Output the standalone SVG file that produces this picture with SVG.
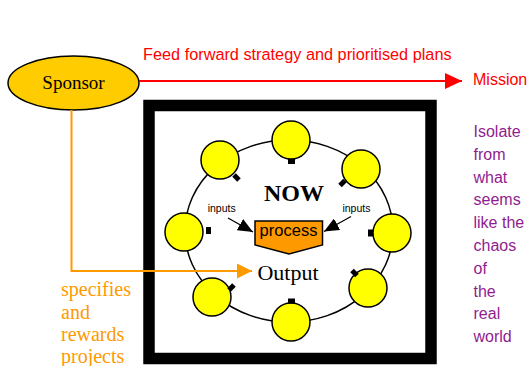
<svg xmlns="http://www.w3.org/2000/svg" width="530" height="366" viewBox="0 0 530 366">
<defs>
<style>
.bulb{fill:#FFFF00;stroke:#000;stroke-width:1.5}
.sock{fill:#000}
.serif{font-family:"Liberation Serif","Times New Roman",serif}
.sans{font-family:"Liberation Sans",Arial,sans-serif}
.red{fill:#FF0000}
.orange{fill:#FF9900}
.purple{fill:#901C90}
</style>
<marker id="redHead" markerWidth="17" markerHeight="16" refX="17" refY="8" orient="auto" markerUnits="userSpaceOnUse"><path d="M0,0 L17,8 L0,16 Z" fill="#FF0000"/></marker>
<marker id="orHead" markerWidth="15" markerHeight="15" refX="15" refY="7.5" orient="auto" markerUnits="userSpaceOnUse"><path d="M0,0 L15,7.5 L0,15 Z" fill="#FF9900"/></marker>
<marker id="blkHead" markerWidth="15" markerHeight="13" refX="15" refY="6.5" orient="auto" markerUnits="userSpaceOnUse"><path d="M0,0 L15,6.5 L0,13 Z" fill="#000"/></marker>
</defs>
<rect width="530" height="366" fill="#fff"/>

<g id="frame">
<rect x="149" y="105.5" width="282" height="253" fill="#fff" stroke="#000" stroke-width="11.5"/>
</g>

<g id="ring">
<ellipse cx="289" cy="231" rx="104" ry="91" fill="none" stroke="#000" stroke-width="1.5"/>
</g>

<g id="bulb-top"><circle class="bulb" cx="291" cy="140" r="19"/><rect class="sock" x="288" y="159" width="7" height="5"/></g>
<g id="bulb-topright"><circle class="bulb" cx="361" cy="169" r="19"/><rect class="sock" x="-3.5" y="-2.5" width="7" height="5" transform="translate(342.5,183) rotate(-45)"/></g>
<g id="bulb-right"><circle class="bulb" cx="392" cy="233" r="19"/><rect class="sock" x="368" y="229.5" width="5" height="7"/></g>
<g id="bulb-bottomright"><circle class="bulb" cx="368" cy="288" r="19"/><rect class="sock" x="-3.5" y="-2.5" width="7" height="5" transform="translate(354.5,273) rotate(45)"/></g>
<g id="bulb-bottom"><circle class="bulb" cx="291" cy="322" r="19"/><rect class="sock" x="288" y="298.5" width="7" height="5"/></g>
<g id="bulb-bottomleft"><circle class="bulb" cx="212" cy="297" r="19"/><rect class="sock" x="-3.5" y="-2.5" width="7" height="5" transform="translate(231.5,287.5) rotate(-45)"/></g>
<g id="bulb-left"><circle class="bulb" cx="184" cy="232" r="19"/><rect class="sock" x="206" y="227" width="5" height="7"/></g>
<g id="bulb-topleft"><circle class="bulb" cx="220" cy="160" r="19"/><rect class="sock" x="-3.5" y="-2.5" width="7" height="5" transform="translate(236.5,177.5) rotate(45)"/></g>

<g id="sponsor">
<ellipse cx="73.5" cy="83" rx="65.5" ry="27" fill="#FFCC00" stroke="#000" stroke-width="1.5"/>
<text class="serif" x="73.5" y="89" font-size="19" text-anchor="middle" fill="#000">Sponsor</text>
</g>

<g id="process">
<path d="M255,221 H322.5 V245 L289,254 L255,245 Z" fill="#FF9900" stroke="#000" stroke-width="1.5"/>
<text class="sans" x="288.5" y="235.5" font-size="16.5" text-anchor="middle" fill="#000">process</text>
</g>

<g id="labels">
<text class="serif" x="294" y="201" font-size="24" font-weight="bold" text-anchor="middle" fill="#000">NOW</text>
<text class="serif" x="288" y="280" font-size="22" text-anchor="middle" fill="#000">Output</text>
<text class="sans" x="221.7" y="212" font-size="10.5" text-anchor="middle" fill="#000">inputs</text>
<text class="sans" x="356.4" y="212" font-size="10.5" text-anchor="middle" fill="#000">inputs</text>
<text class="sans red" x="143" y="60" font-size="16.3">Feed forward strategy and prioritised plans</text>
<text class="sans red" x="473" y="85" font-size="16">Mission</text>
<g class="serif orange" font-size="20">
<text x="61" y="296">specifies</text>
<text x="61" y="318.5">and</text>
<text x="61" y="341">rewards</text>
<text x="61" y="363">projects</text>
</g>
<g class="sans purple" font-size="16">
<text x="473.5" y="137">Isolate</text>
<text x="473.5" y="159.8">from</text>
<text x="473.5" y="182.6">what</text>
<text x="473.5" y="205.4">seems</text>
<text x="473.5" y="228.2">like the</text>
<text x="473.5" y="251">chaos</text>
<text x="473.5" y="273.8">of</text>
<text x="473.5" y="296.6">the</text>
<text x="473.5" y="319.4">real</text>
<text x="473.5" y="342.2">world</text>
</g>
</g>

<g id="connectors" fill="none">
<line x1="139" y1="81" x2="462" y2="81" stroke="#FF0000" stroke-width="2" marker-end="url(#redHead)"/>
<polyline points="71.5,110 71.5,271 252,271" stroke="#FF9900" stroke-width="2" marker-end="url(#orHead)"/>
<line x1="228" y1="218" x2="253" y2="232" stroke="#000" stroke-width="1.3" marker-end="url(#blkHead)"/>
<line x1="351" y1="216.5" x2="324" y2="231.5" stroke="#000" stroke-width="1.3" marker-end="url(#blkHead)"/>
</g>
</svg>
